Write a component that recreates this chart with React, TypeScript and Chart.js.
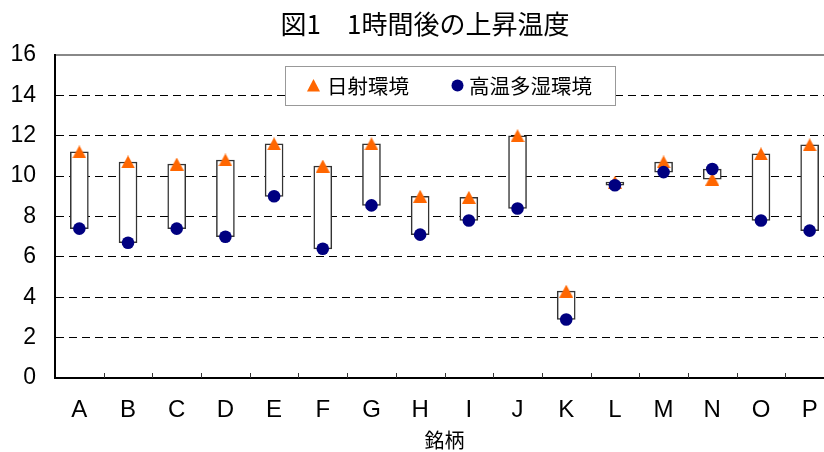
import React, { useEffect, useRef } from 'react';
import { Chart, registerables } from 'chart.js';

Chart.register(...registerables);

const titleText = '図1\u30001時間後の上昇温度';
const xAxisTitle = '銘柄';
const categories = ['A', 'B', 'C', 'D', 'E', 'F', 'G', 'H', 'I', 'J', 'K', 'L', 'M', 'N', 'O', 'P'];
const seriesNames = ['日射環境', '高温多湿環境'];
const solarValues = [11.2, 10.7, 10.6, 10.8, 11.6, 10.5, 11.6, 9.0, 8.95, 12.0, 4.3, 9.7, 10.7, 9.85, 11.1, 11.55];
const humidValues = [7.4, 6.7, 7.4, 7.0, 9.0, 6.4, 8.55, 7.1, 7.8, 8.4, 2.9, 9.55, 10.2, 10.35, 7.8, 7.3];
const yMin = 0;
const yMax = 16;
const yStep = 2;

const SOLAR_COLOR = '#FF6600';
const HUMID_COLOR = '#000080';
const JP_FONT = '"Noto Sans CJK JP", "Noto Sans", sans-serif';
const LAT_FONT = '"Liberation Sans", Arial, sans-serif';

const rangeData = categories.map((_, i) => [
  Math.min(solarValues[i], humidValues[i]),
  Math.max(solarValues[i], humidValues[i]),
]);

function makeTriangle(w: number, h: number, color: string): HTMLCanvasElement {
  const c = document.createElement('canvas');
  c.width = w;
  c.height = h;
  const g = c.getContext('2d')!;
  g.fillStyle = color;
  g.beginPath();
  g.moveTo(w / 2, 0);
  g.lineTo(w, h);
  g.lineTo(0, h);
  g.closePath();
  g.fill();
  return c;
}

const titlePlugin = {
  id: 'customTitle',
  afterDraw(chart: any) {
    const { ctx } = chart;
    ctx.save();
    ctx.fillStyle = '#000';
    ctx.font = '26px ' + JP_FONT;
    ctx.textAlign = 'center';
    ctx.textBaseline = 'middle';
    ctx.fillText(titleText, 425, 24);
    ctx.restore();
  },
};

const xTickPlugin = {
  id: 'xCategoryTicks',
  afterDraw(chart: any) {
    const { ctx, chartArea } = chart;
    const xs = chart.scales.x;
    const step = xs.getPixelForValue(1) - xs.getPixelForValue(0);
    ctx.save();
    ctx.strokeStyle = '#333';
    ctx.lineWidth = 1;
    for (let i = 1; i <= categories.length; i++) {
      const x = Math.round(xs.getPixelForValue(i) - step / 2) + 0.5;
      ctx.beginPath();
      ctx.moveTo(x, chartArea.bottom);
      ctx.lineTo(x, chartArea.bottom - 5);
      ctx.stroke();
    }
    ctx.restore();
  },
};

const legendPlugin = {
  id: 'boxLegend',
  afterDraw(chart: any) {
    const { ctx, chartArea } = chart;
    const x0 = chartArea.left + 230;
    const y0 = chartArea.top + 11;
    const w = 330;
    const h = 39;
    const cy = y0 + h / 2;
    ctx.save();
    ctx.fillStyle = '#fff';
    ctx.fillRect(x0, y0, w, h);
    ctx.strokeStyle = '#999';
    ctx.lineWidth = 1;
    ctx.strokeRect(x0 + 0.5, y0 + 0.5, w, h);

    const tx = x0 + 28.5;
    ctx.fillStyle = SOLAR_COLOR;
    ctx.beginPath();
    ctx.moveTo(tx, cy - 6.5);
    ctx.lineTo(tx + 6.5, cy + 6);
    ctx.lineTo(tx - 6.5, cy + 6);
    ctx.closePath();
    ctx.fill();

    const cx = x0 + 172.5;
    ctx.fillStyle = HUMID_COLOR;
    ctx.beginPath();
    ctx.arc(cx, cy, 6, 0, Math.PI * 2);
    ctx.fill();

    ctx.fillStyle = '#000';
    ctx.font = '20.5px ' + JP_FONT;
    ctx.textBaseline = 'middle';
    ctx.textAlign = 'left';
    ctx.fillText(seriesNames[0], x0 + 42, cy + 1);
    ctx.fillText(seriesNames[1], x0 + 184, cy + 1);
    ctx.restore();
  },
};

export default function App() {
  const canvasRef = useRef<HTMLCanvasElement | null>(null);

  useEffect(() => {
    if (!canvasRef.current) return;
    const triangleImg = makeTriangle(14, 13, SOLAR_COLOR);
    const chart = new Chart(canvasRef.current, {
      type: 'bar',
      data: {
        labels: categories,
        datasets: [
          {
            type: 'bar',
            label: 'range',
            data: rangeData as any,
            backgroundColor: '#ffffff',
            borderColor: '#333333',
            borderWidth: 1.5,
            borderSkipped: false,
            barThickness: 18,
            order: 3,
          },
          {
            type: 'line',
            label: seriesNames[0],
            data: solarValues,
            showLine: false,
            pointStyle: triangleImg,
            pointRadius: 7,
            pointHoverRadius: 7,
            pointBackgroundColor: SOLAR_COLOR,
            pointBorderColor: SOLAR_COLOR,
            pointBorderWidth: 0,
            order: 2,
          },
          {
            type: 'line',
            label: seriesNames[1],
            data: humidValues,
            showLine: false,
            pointStyle: 'circle',
            pointRadius: 6.3,
            pointHoverRadius: 6.3,
            pointBackgroundColor: HUMID_COLOR,
            pointBorderColor: HUMID_COLOR,
            pointBorderWidth: 0,
            order: 1,
          },
        ],
      },
      options: {
        animation: false,
        responsive: true,
        maintainAspectRatio: false,
        events: [],
        layout: { padding: { top: 55, left: 0, right: 16, bottom: 0 } },
        plugins: {
          legend: { display: false },
          tooltip: { enabled: false },
          title: { display: false },
        },
        scales: {
          x: {
            offset: true,
            grid: { display: true, drawOnChartArea: false, drawTicks: false },
            border: { display: true, color: '#000', width: 2 },
            ticks: {
              color: '#000',
              font: { family: LAT_FONT, size: 24 },
              padding: 18,
              maxRotation: 0,
              autoSkip: false,
            },
            title: {
              display: true,
              text: xAxisTitle,
              color: '#000',
              font: { family: JP_FONT, size: 20 },
              padding: { top: 0, bottom: 0 },
            },
            afterFit: (scale: any) => {
              scale.height = 74;
            },
          },
          y: {
            min: yMin,
            max: yMax,
            grid: {
              drawTicks: false,
              color: (c: any) => (c.tick && c.tick.value === yMax ? '#888' : '#000'),
              lineWidth: (c: any) => (c.tick && c.tick.value === yMax ? 2 : 1),
            },
            border: {
              display: true,
              color: '#000',
              width: 2,
              dash: (c: any) =>
                c.tick && c.tick.value > yMin && c.tick.value < yMax ? [8, 5] : [],
            } as any,
            ticks: {
              stepSize: yStep,
              color: '#000',
              font: { family: LAT_FONT, size: 23 },
              padding: 19,
            },
            afterFit: (scale: any) => {
              scale.width = 55;
            },
          },
        },
      },
      plugins: [xTickPlugin, legendPlugin, titlePlugin],
    } as any);
    return () => chart.destroy();
  }, []);

  return (
    <div style={{ position: 'fixed', left: 0, top: 0, width: 850, height: 452, background: '#fff' }}>
      <canvas ref={canvasRef} />
    </div>
  );
}
